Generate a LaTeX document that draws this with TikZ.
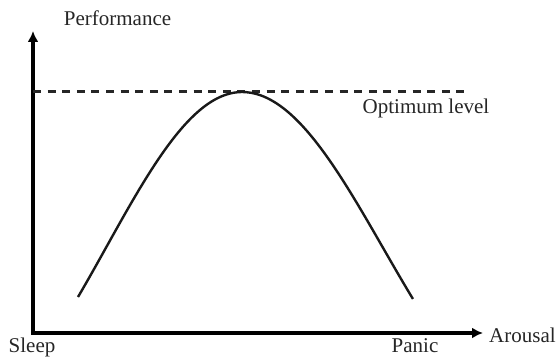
\documentclass[tikz,border=0pt]{standalone}
\usepackage{fontspec}
\setmainfont{Liberation Serif}
\usetikzlibrary{arrows.meta}
\begin{document}
\begin{tikzpicture}[x=1pt,y=1pt,
  axis/.style={line width=3.2pt,-{Latex[length=11pt,width=11pt]}},
  lbl/.style={inner sep=0pt,font=\fontsize{21}{22}\selectfont,text=black!85},
  optline/.style={line width=3pt,dash pattern=on 8pt off 6.6pt,black!85},
  curveline/.style={line width=2.4pt,black!90}]
\useasboundingbox (0,0) rectangle (559,357);
\coordinate (O) at (33,24);
\coordinate (ytop) at (33,326);
\coordinate (xend) at (483,24);
\coordinate (dstart) at (33,266);
\coordinate (dend) at (469,266);
\draw[axis] (O.center) -- (ytop);
\draw[axis] ([xshift=-1.6pt]O.center) -- (xend);
\draw[optline] (dstart) -- (dend);
% curve: cosine-shaped hump
\draw[curveline] plot[smooth,domain=1:0,samples=40] ({242-164*\x},{265-205*(1-cos(1.9*\x r))/(1-cos(1.9 r))})
  -- plot[smooth,domain=0:1,samples=40] ({242+171*\x},{265-207*(1-cos(1.9*\x r))/(1-cos(1.9 r))});
\node[lbl,anchor=base] (perf) at (117.5,331) {Performance};
\node[lbl,anchor=base] (opt) at (426,244) {Optimum level};
\node[lbl,anchor=base] (sleep) at (32,5) {Sleep};
\node[lbl,anchor=base] (panic) at (415,5) {Panic};
\node[lbl,anchor=base west] (arousal) at (489,15) {Arousal};
\end{tikzpicture}
\end{document}
